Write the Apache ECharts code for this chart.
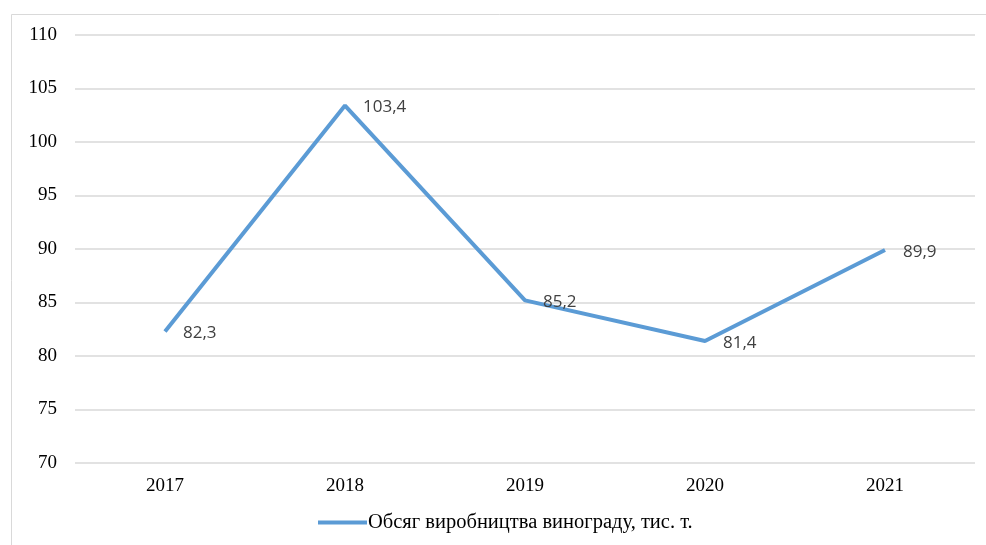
<!DOCTYPE html>
<html>
<head>
<meta charset="utf-8">
<script src="https://cdn.jsdelivr.net/npm/echarts@6/dist/echarts.min.js"></script>
<style>
html, body { margin: 0; padding: 0; background: #fff; }
#chart { width: 986px; height: 545px; }
</style>
</head>
<body>
<div id="chart"></div>
<script>
const years = ['2017', '2018', '2019', '2020', '2021'];
const volume = [82.3, 103.4, 85.2, 81.4, 89.9];
const seriesName = 'Обсяг виробництва винограду, тис. т.';
const yMin = 70, yMax = 110, yStep = 5;

const chart = echarts.init(document.getElementById('chart'));

chart.setOption({
  animation: false,
  backgroundColor: '#fff',
  graphic: [{
    type: 'rect',
    silent: true,
    shape: { x: 11.5, y: 14.5, width: 1000, height: 600 },
    style: { fill: 'none', stroke: '#d9d9d9', lineWidth: 1 }
  }],
  grid: { left: 75, right: 11, top: 35, bottom: 82 },
  legend: {
    bottom: 7,
    left: 313,
    icon: 'rect',
    itemWidth: 49,
    itemHeight: 4,
    itemGap: 4,
    textStyle: { fontFamily: 'Liberation Serif', fontSize: 20.5, color: '#000', padding: [0, 0, 0, -4] },
    data: [seriesName]
  },
  xAxis: {
    type: 'category',
    data: years,
    boundaryGap: true,
    axisLine: { show: false },
    axisTick: { show: false },
    axisLabel: { fontFamily: 'Liberation Serif', fontSize: 19, color: '#000', margin: 14 }
  },
  yAxis: {
    type: 'value',
    min: yMin,
    max: yMax,
    interval: yStep,
    axisLine: { show: false },
    axisTick: { show: false },
    axisLabel: { fontFamily: 'Liberation Serif', fontSize: 19, color: '#000', margin: 18 },
    splitLine: { lineStyle: { color: '#d9d9d9', width: 1.5 } }
  },
  series: [{
    name: seriesName,
    type: 'line',
    data: volume,
    symbol: 'circle',
    symbolSize: 0,
    showSymbol: true,
    lineStyle: { color: '#5b9bd5', width: 4 },
    itemStyle: { color: '#5b9bd5' },
    label: {
      show: true,
      position: 'right',
      distance: 18,
      offset: [0, 2],
      fontFamily: 'Open Sans',
      fontSize: 17,
      color: '#404040',
      formatter: p => String(p.value).replace('.', ',')
    }
  }]
});
</script>
</body>
</html>
